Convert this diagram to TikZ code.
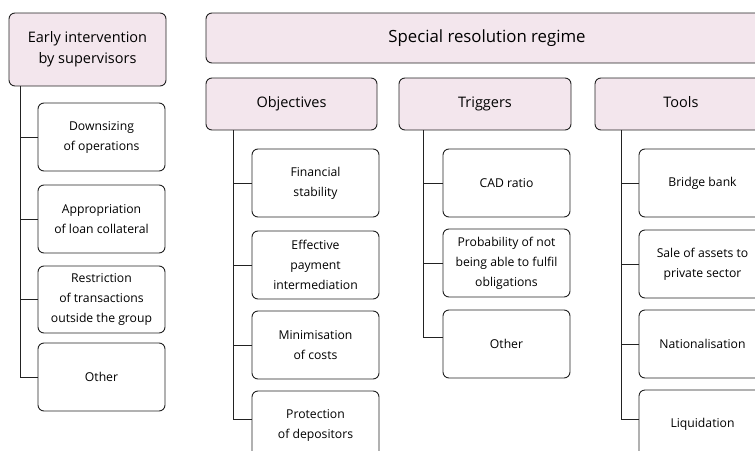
\documentclass[tikz,border=0pt]{standalone}
\usepackage{fontspec}
\setmainfont{Open Sans}
\definecolor{hdrfill}{HTML}{F3E6ED}
\definecolor{linec}{HTML}{222222}
\begin{document}
\begin{tikzpicture}[x=1pt,y=-1pt,
  hdr/.style={draw=linec, line width=0.9pt, fill=hdrfill, rounded corners=6pt, align=center,
    inner sep=0pt, font=\fontsize{14.5}{21}\selectfont},
  big/.style={hdr, font=\fontsize{16.8}{21}\selectfont},
  sub/.style={hdr, minimum width=172pt, minimum height=52pt, text height=10.5pt, text depth=3.5pt},
  item/.style={draw=linec, line width=0.9pt, fill=white, rounded corners=6pt, align=center,
    inner sep=0pt, minimum width=127pt, minimum height=68pt, font=\fontsize{12.2}{20}\selectfont},
  conn/.style={draw=linec, line width=0.9pt}]
\useasboundingbox (0,0) rectangle (755,450);

% Early intervention
\node[hdr, minimum width=157pt, minimum height=73pt] (early) at (87.5,49.5) {Early intervention\\by supervisors};
\node[item] (e1) at (101.5,137) {Downsizing\\of operations};
\node[item] (e2) at (101.5,219) {Appropriation\\of loan collateral};
\node[item, minimum height=67pt] (e3) at (101.5,299.5) {Restriction\\of transactions\\outside the group};
\node[item] (e4) at (101.5,377) {Other};
\foreach \c in {e1,e2,e3,e4} \draw[conn] ([xshift=12pt]early.south west) |- (\c.west);

% Special resolution regime
\node[big, minimum width=562pt, minimum height=50pt] (srr) at (487,38) {Special resolution regime};

\node[sub, minimum width=171pt] (obj) at (291.5,104) {Objectives};
\node[sub] (trg) at (485,104) {Triggers};
\node[sub] (tls) at (681,104) {Tools};

\node[item] (o1) at (315.5,183) {Financial\\stability};
\node[item] (o2) at (315.5,265) {Effective\\payment\\intermediation};
\node[item] (o3) at (315.5,345) {Minimisation\\of costs};
\node[item] (o4) at (315.5,425) {Protection\\of depositors};
\foreach \c in {o1,o2,o3} \draw[conn] ([xshift=28pt]obj.south west) |- (\c.west);
\draw[conn] ([xshift=28pt]obj.south west) |- ([yshift=6pt]o4.west);

\node[item] (t1) at (506.5,183) {CAD ratio};
\node[item] (t2) at (506.5,263) {Probability of not\\being able to fulfil\\obligations};
\node[item] (t3) at (506.5,344) {Other};
\foreach \c in {t1,t2} \draw[conn] ([xshift=25pt]trg.south west) |- (\c.west);
\draw[conn] ([xshift=25pt]trg.south west) |- ([yshift=7pt]t3.west);

\node[item] (l1) at (702.5,183) {Bridge bank};
\node[item] (l2) at (702.5,264) {Sale of assets to\\private sector};
\node[item] (l3) at (702.5,344) {Nationalisation};
\node[item] (l4) at (702.5,424) {Liquidation};
\foreach \c in {l1,l2,l3} \draw[conn] ([xshift=27pt]tls.south west) |- (\c.west);
\draw[conn] ([xshift=27pt]tls.south west) |- ([yshift=5pt]l4.west);
\end{tikzpicture}
\end{document}
